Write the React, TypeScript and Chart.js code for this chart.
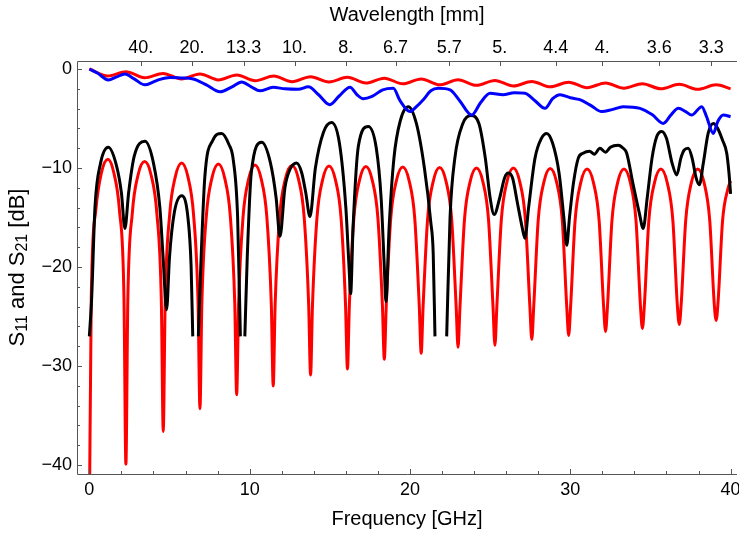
import React, { useEffect, useRef } from "react";
import { Chart, registerables } from "chart.js";

Chart.register(...registerables);

const FONT = "'Liberation Sans', Arial, sans-serif";

// Axis ticks
const freqTicks = [0, 10, 20, 30, 40];
const dbTicks = [0, -10, -20, -30, -40];
const wavelengthValues = [40, 20, 13.3, 10, 8, 6.7, 5.7, 5, 4.4, 4, 3.6, 3.3];
const wavelengthLabels = ["40.", "20.", "13.3", "10.", "8.", "6.7", "5.7", "5.", "4.4", "4.", "3.6", "3.3"];

// Simulated S11 (red, lower)
const simS11Freq = [
  0, 0.12, 0.4, 0.75, 1.16, 1.53, 1.88, 2.16, 2.28,
  2.4, 2.68, 3.03, 3.45, 3.86, 4.21, 4.49, 4.61,
  4.73, 5.01, 5.36, 5.76, 6.15, 6.5, 6.78, 6.9,
  7.02, 7.3, 7.65, 8.05, 8.44, 8.79, 9.07, 9.19,
  9.31, 9.59, 9.94, 10.33, 10.72, 11.07, 11.35, 11.47,
  11.59, 11.87, 12.22, 12.64, 13.05, 13.4, 13.68, 13.8,
  13.92, 14.2, 14.55, 14.95, 15.35, 15.7, 15.98, 16.1,
  16.22, 16.5, 16.85, 17.25, 17.65, 18.0, 18.28, 18.4,
  18.52, 18.8, 19.15, 19.55, 19.95, 20.3, 20.58, 20.7,
  20.82, 21.1, 21.45, 21.85, 22.25, 22.6, 22.88, 23.0,
  23.12, 23.4, 23.75, 24.15, 24.55, 24.9, 25.18, 25.3,
  25.42, 25.7, 26.05, 26.45, 26.85, 27.2, 27.48, 27.6,
  27.72, 28.0, 28.35, 28.75, 29.15, 29.5, 29.78, 29.9,
  30.02, 30.3, 30.65, 31.05, 31.45, 31.8, 32.08, 32.2,
  32.32, 32.6, 32.95, 33.35, 33.75, 34.1, 34.38, 34.5,
  34.62, 34.9, 35.25, 35.65, 36.05, 36.4, 36.68, 36.8,
  36.92, 37.2, 37.55, 37.95, 38.35, 38.7, 38.98, 39.1,
  39.22, 39.5, 39.85, 40.0,
];
const simS11Db = [
  -46, -23.1, -14.3, -10.5, -9.1, -10.5, -14.3, -23.1, -39.9,
  -23.35, -14.55, -10.75, -9.35, -10.75, -14.55, -23.35, -36.6,
  -23.5, -14.7, -10.9, -9.5, -10.9, -14.7, -23.5, -34.3,
  -23.6, -14.8, -11.0, -9.6, -11.0, -14.8, -23.6, -32.9,
  -23.7, -14.9, -11.1, -9.7, -11.1, -14.9, -23.7, -32.0,
  -23.75, -14.95, -11.15, -9.75, -11.15, -14.95, -23.75, -30.9,
  -23.8, -15.0, -11.2, -9.8, -11.2, -15.0, -23.8, -30.3,
  -23.85, -15.05, -11.25, -9.85, -11.25, -15.05, -23.85, -29.3,
  -23.9, -15.1, -11.3, -9.9, -11.3, -15.1, -23.9, -28.7,
  -23.95, -15.15, -11.35, -9.95, -11.35, -15.15, -23.95, -28.1,
  -24.0, -15.2, -11.4, -10.0, -11.4, -15.2, -24.0, -27.9,
  -24.0, -15.2, -11.4, -10.0, -11.4, -15.2, -24.0, -27.3,
  -24.0, -15.25, -11.45, -10.05, -11.45, -15.25, -24.0, -26.9,
  -24.0, -15.3, -11.5, -10.1, -11.5, -15.3, -24.0, -26.5,
  -24.0, -15.3, -11.5, -10.1, -11.5, -15.3, -24.0, -26.2,
  -23.9, -15.3, -11.5, -10.1, -11.5, -15.3, -23.9, -25.8,
  -23.7, -15.3, -11.5, -10.1, -11.5, -15.3, -23.7, -25.4,
  -23.5, -15.3, -12.0, -11.3,
];

// Simulated S21 (red, upper)
const simS21Freq = [
  0, 1.15, 2.28, 3.45, 4.6, 5.75, 6.9, 8.05, 9.2, 10.35, 11.5, 12.65, 13.8, 14.95,
  16.1, 17.25, 18.4, 19.55, 20.7, 21.85, 23.0, 24.15, 25.3, 26.45, 27.6, 28.75,
  29.9, 31.05, 32.2, 33.35, 34.5, 35.65, 36.8, 37.95, 39.1, 40.0,
];
const simS21Db = [
  0, -0.7, -0.27, -0.88, -0.44, -1.0, -0.5, -1.1, -0.6, -1.18, -0.7, -1.28, -0.77, -1.3,
  -0.84, -1.42, -0.92, -1.5, -1.0, -1.6, -1.08, -1.65, -1.15, -1.72, -1.25, -1.8,
  -1.33, -1.88, -1.4, -1.93, -1.48, -2.0, -1.55, -2.05, -1.6, -2.0,
];

// Measured S11 (black)
const measS11Freq = [
  0, 0.14, 0.35, 0.7, 1.18, 1.7, 2.0, 2.22, 2.45, 2.8, 3.47, 4.0, 4.4, 4.6, 4.82, 5.0, 5.3,
  5.76, 6.15, 6.35, 6.45, 6.6, 6.8, 6.95, 7.2, 7.7, 8.25, 8.7, 8.98, 9.25, 9.42, 9.55, 9.7,
  9.85, 10.1, 10.75, 11.3, 11.65, 11.89, 12.2, 12.5, 12.93, 13.25, 13.5, 13.76, 14.1, 14.6,
  15.11, 15.6, 16.0, 16.2, 16.3, 16.45, 16.78, 17.4, 17.9, 18.2, 18.4, 18.5, 18.7, 19.0,
  19.4, 19.9, 20.4, 20.9, 21.3, 21.45, 21.56, 21.9, 22.29, 22.5, 22.8, 23.3, 23.8, 24.3,
  24.7, 25.0, 25.25, 25.6, 25.9, 26.13, 26.4, 26.7, 27.0, 27.17, 27.4, 27.8, 28.2, 28.53,
  28.9, 29.3, 29.6, 29.78, 29.95, 30.2, 30.5, 30.8, 31.2, 31.5, 31.85, 32.2, 32.5, 32.99,
  33.3, 33.52, 33.9, 34.3, 34.55, 34.8, 35.1, 35.4, 35.7, 36.0, 36.35, 36.64, 36.9, 37.1,
  37.36, 37.6, 37.85, 38.05, 38.3, 38.6, 38.92, 39.2, 39.5, 39.76, 39.9, 40.0,
];
const measS11Db = [
  -27, -23.3, -14, -9.5, -7.9, -9.8, -12.5, -16.1, -12.5, -8.8, -7.3, -9.5, -14, -19, -24.3, -19, -14.5,
  -12.8, -15, -20, -27, null, -27, -20, -11, -7.2, -6.5, -7.6, -9.2, -15, -27, null, -27,
  -19, -10.5, -7.4, -9.5, -13, -16.9, -12, -10.2, -9.5, -10.5, -12.5, -14.9, -10, -6.4,
  -5.4, -7.5, -14, -20, -22.7, -16, -7.8, -5.8, -8, -13, -20, -23.5, -16, -9,
  -5.2, -3.8, -5.5, -10, -15.5, -18.6, -27, null, -27, -15, -9, -5.5, -4.7, -5.5,
  -9, -13, -14.7, -13, -11, -10.5, -11, -13.5, -16, -17.1, -14, -9, -7, -6.5,
  -7.5, -10.5, -15, -17.8, -15, -11.5, -9, -8.5, -8.3, -8.6, -8.0, -8.4, -7.9, -7.7,
  -8.0, -8.5, -11.5, -14.5, -16.1, -13, -9, -6.8, -6.3, -7, -9.5, -10.7, -9, -8.2,
  -8.0, -9, -11, -11.7, -9.5, -6.5, -5.5, -6, -7.2, -8.5, -10.5, -12.6,
];

// Measured S21 (blue)
const measS21Freq = [
  0, 0.5, 1.18, 1.7, 2.22, 2.8, 3.47, 4.0, 4.4, 5.03, 5.7, 6.48, 7.3, 8.15, 8.9, 9.5, 10.1,
  10.64, 11.47, 12.2, 13.03, 13.66, 14.3, 15.0, 15.6, 16.26, 16.7, 17.08, 17.6, 18.3, 18.96,
  19.38, 20.0, 20.4, 20.83, 21.3, 21.77, 22.5, 23.1, 23.85, 24.4, 25.0, 25.8, 26.5, 27.17,
  27.8, 28.42, 28.9, 29.36, 30.0, 30.6, 31.3, 31.96, 32.6, 33.3, 34.35, 35.1, 35.8, 36.3,
  36.74, 37.2, 37.57, 38.2, 38.5, 38.92, 39.2, 39.55, 40.0,
];
const measS21Db = [
  0, -0.4, -1.1, -0.8, -0.5, -1.0, -1.6, -1.3, -1.05, -0.85, -0.9, -1.0, -1.6, -2.3, -1.8, -1.3, -1.8,
  -2.2, -1.85, -2.0, -2.05, -1.8, -2.6, -3.6, -2.7, -1.85, -2.6, -3.0, -2.8, -2.1, -1.95,
  -3.2, -4.3, -3.8, -3.1, -2.2, -1.95, -2.1, -3.2, -4.65, -3.4, -2.45, -2.6, -2.4, -2.45,
  -3.2, -3.97, -3.0, -2.6, -2.9, -3.1, -3.7, -4.3, -4.1, -3.8, -3.97, -4.6, -5.5, -4.6,
  -3.97, -4.3, -4.65, -3.8, -4.8, -6.5, -5.3, -4.65, -4.8,
];

const toPoints = (xs: number[], ys: (number | null)[]) => xs.map((x, i) => ({ x, y: ys[i] }));

const X_MIN = -0.77;
const X_MAX = 40.4;
const Y_MIN = -40.9;
const Y_MAX = 0.81;
const FRAME = "#555";

const framePlugin = {
  id: "frameTicks",
  afterDraw(chart: any) {
    const { ctx, chartArea: a, scales } = chart;
    const x = scales.x;
    const y = scales.y;
    ctx.save();
    ctx.strokeStyle = FRAME;
    ctx.lineWidth = 1;
    ctx.beginPath();
    ctx.moveTo(a.left + 0.5, a.top + 0.5);
    ctx.lineTo(a.left + 0.5, a.bottom + 0.5);
    ctx.lineTo(a.right, a.bottom + 0.5);
    ctx.moveTo(a.left + 0.5, a.top + 0.5);
    ctx.lineTo(a.right, a.top + 0.5);
    for (let v = 0; v <= 40; v += 2) {
      const px = Math.round(x.getPixelForValue(v)) + 0.5;
      const len = v % 10 === 0 ? 5 : 3;
      ctx.moveTo(px, a.bottom);
      ctx.lineTo(px, a.bottom - len);
    }
    for (let v = -40; v <= 0; v += 2) {
      const py = Math.round(y.getPixelForValue(v)) + 0.5;
      const len = v % 10 === 0 ? 5 : 3;
      ctx.moveTo(a.left, py);
      ctx.lineTo(a.left + len, py);
    }
    for (const w of wavelengthValues) {
      const px = Math.round(x.getPixelForValue(128 / w)) + 0.5;
      ctx.moveTo(px, a.top);
      ctx.lineTo(px, a.top + 5);
    }
    ctx.stroke();

    // y-axis title with subscripts
    const big = `22px ${FONT}`;
    const small = `16px ${FONT}`;
    const parts: [string, string, number][] = [
      ["S", big, 0],
      ["11", small, 5],
      [" and S", big, 0],
      ["21", small, 5],
      [" [dB]", big, 0],
    ];
    let total = 0;
    for (const [t, f] of parts) {
      ctx.font = f;
      total += ctx.measureText(t).width;
    }
    ctx.translate(18, (a.top + a.bottom) / 2);
    ctx.rotate(-Math.PI / 2);
    ctx.fillStyle = "#000";
    ctx.textBaseline = "middle";
    ctx.textAlign = "left";
    let cx = -total / 2;
    for (const [t, f, dy] of parts) {
      ctx.font = f;
      ctx.fillText(t, cx, dy);
      cx += ctx.measureText(t).width;
    }
    ctx.restore();
  },
};

const zeroPad = (s: any) => {
  s.paddingLeft = 0;
  s.paddingRight = 0;
  s.paddingTop = 0;
  s.paddingBottom = 0;
};

const fmtDb = (v: number) => (v < 0 ? "\u2212" + Math.abs(v) : String(v));

export default function App() {
  const ref = useRef<HTMLCanvasElement | null>(null);
  useEffect(() => {
    if (!ref.current) return;
    const line = (data: any, color: string, width: number, order: number) => ({
      data,
      borderColor: color,
      backgroundColor: color,
      borderWidth: width,
      pointRadius: 0,
      fill: false,
      spanGaps: false,
      cubicInterpolationMode: "monotone" as const,
      order,
    });
    const chart = new Chart(ref.current, {
      type: "line",
      data: {
        datasets: [
          line(toPoints(measS21Freq, measS21Db), "#0000FF", 3, 1),
          line(toPoints(simS21Freq, simS21Db), "#FF0000", 3, 2),
          line(toPoints(measS11Freq, measS11Db), "#000000", 3, 3),
          line(toPoints(simS11Freq, simS11Db), "#FF0000", 3, 4),
        ],
      },
      options: {
        animation: false,
        responsive: false,
        maintainAspectRatio: false,
        layout: { padding: { left: 0, right: 2, top: 0, bottom: 0 } },
        plugins: { legend: { display: false }, tooltip: { enabled: false } },
        scales: {
          x: {
            type: "linear",
            position: "bottom",
            min: X_MIN,
            max: X_MAX,
            afterBuildTicks: (s: any) => {
              s.ticks = freqTicks.map((v) => ({ value: v }));
            },
            afterFit: (s: any) => {
              s.height = 60;
              zeroPad(s);
            },
            grid: { display: false, drawTicks: false },
            border: { display: false },
            ticks: {
              color: "#000",
              font: { family: FONT, size: 18 },
              padding: 5,
              maxRotation: 0,
              autoSkip: false,
              callback: (v: any) => String(v),
            },
            title: {
              display: true,
              text: "Frequency [GHz]",
              color: "#000",
              font: { family: FONT, size: 20 },
              padding: { top: 0, bottom: 3 },
            },
          },
          x2: {
            type: "linear",
            position: "top",
            min: X_MIN,
            max: X_MAX,
            afterBuildTicks: (s: any) => {
              s.ticks = wavelengthValues.map((w) => ({ value: 128 / w }));
            },
            afterFit: (s: any) => {
              s.height = 61;
              zeroPad(s);
            },
            grid: { display: false, drawTicks: false },
            border: { display: false },
            ticks: {
              color: "#000",
              font: { family: FONT, size: 18 },
              padding: 2,
              maxRotation: 0,
              autoSkip: false,
              callback: (_v: any, i: number) => wavelengthLabels[i],
            },
            title: {
              display: true,
              text: "Wavelength [mm]",
              color: "#000",
              font: { family: FONT, size: 20 },
              padding: { top: 3, bottom: 0 },
            },
          },
          y: {
            type: "linear",
            position: "left",
            min: Y_MIN,
            max: Y_MAX,
            afterBuildTicks: (s: any) => {
              s.ticks = dbTicks.map((v) => ({ value: v }));
            },
            afterFit: (s: any) => {
              s.width = 77;
              zeroPad(s);
            },
            grid: { display: false, drawTicks: false },
            border: { display: false },
            ticks: {
              color: "#000",
              font: { family: FONT, size: 18 },
              padding: 5,
              autoSkip: false,
              callback: (v: any) => fmtDb(Number(v)),
            },
            title: { display: false },
          },
        },
      },
      plugins: [framePlugin],
    });
    return () => chart.destroy();
  }, []);
  return (
    <div style={{ position: "fixed", left: 0, top: 0, width: 739, height: 534, background: "#fff" }}>
      <canvas ref={ref} width={739} height={534} style={{ width: 739, height: 534, display: "block" }} />
    </div>
  );
}
